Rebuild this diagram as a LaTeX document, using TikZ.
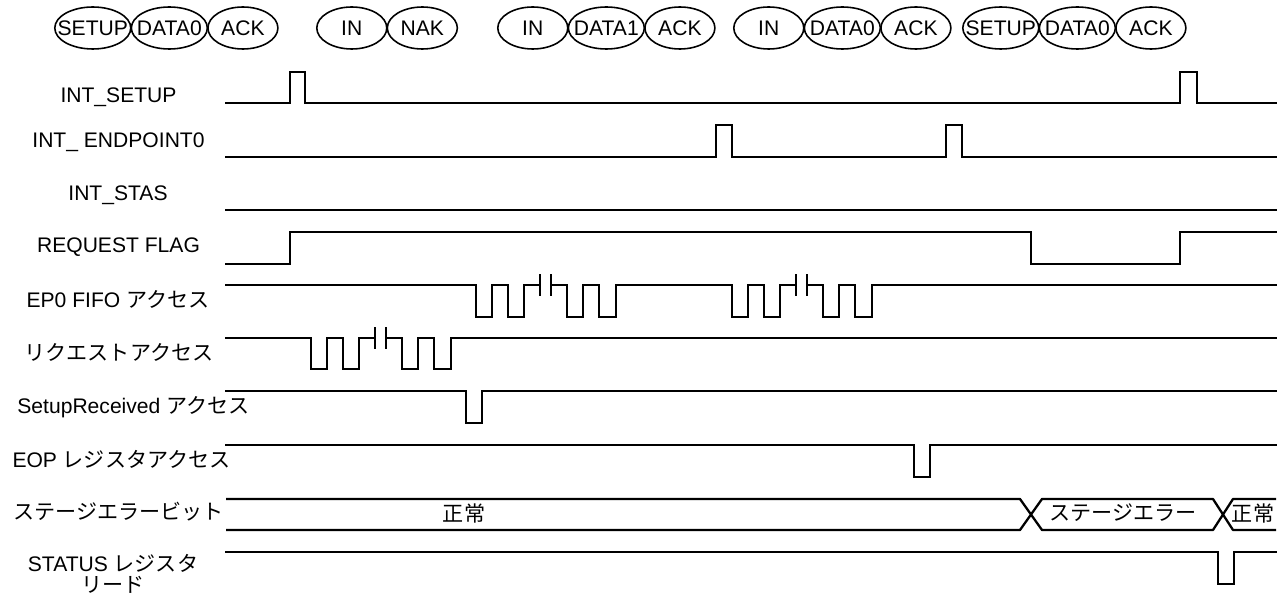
\documentclass[tikz,border=0pt]{standalone}
\usepackage{fontspec}
\setmainfont{Liberation Sans}
\newfontfamily\jp{Noto Sans CJK JP}
\usetikzlibrary{shapes.geometric, positioning}

% text of fixed width ellipses
\newcommand{\pk}[1]{\makebox[0pt]{#1}}
% burst of accesses: start x, high y, low y
\newcommand{\burst}[3]{%
    \draw[sig] (#1,#2) |- (#1+16,#3) |- (#1+32,#2) |- (#1+48,#3) |- (#1+64,#2);
    \draw[sig] (#1+64,#2-10) -- (#1+64,#2+10);
    \draw[sig] (#1+75,#2-10) -- (#1+75,#2+10);
    \draw[sig] (#1+75,#2) -| (#1+91,#3) -| (#1+107,#2) -| (#1+123,#3) -| (#1+140,#2);
}

\begin{document}
\begin{tikzpicture}[
        x=0.02cm, y=-0.02cm,
        font=\fontsize{12}{14}\selectfont,
        pkt/.style={ellipse, draw, line width=0.9pt, minimum height=0.84cm, inner sep=0pt},
        pktlong/.style={pkt, minimum width=1.52cm},
        pktshort/.style={pkt, minimum width=1.4cm},
        lbl/.style={anchor=base, inner sep=0pt},
        sig/.style={line width=1.3pt, line cap=rect},
        bus/.style={line width=1.3pt, line join=round}
        ]
        \useasboundingbox (0,0) rectangle (1279,601);

        % packets
        \node[pktlong, anchor=west] (setupA) at (54,28) {\pk{SETUP}};
        \node[pktlong, right=-0.02cm of setupA] (dataA) {\pk{DATA0}};
        \node[pktshort, right=-0.02cm of dataA] (ackA) {\pk{ACK}};
        \node[pktshort, anchor=west] (inA) at (316,28) {\pk{IN}};
        \node[pktshort, right=-0.02cm of inA] (nakA) {\pk{NAK}};
        \node[pktshort, anchor=west] (inB) at (497,28) {\pk{IN}};
        \node[pktlong, right=-0.02cm of inB] (dataB) {\pk{DATA1}};
        \node[pktshort, right=-0.02cm of dataB] (ackB) {\pk{ACK}};
        \node[pktshort, anchor=west] (inC) at (733,28) {\pk{IN}};
        \node[pktlong, right=-0.02cm of inC] (dataC) {\pk{DATA0}};
        \node[pktshort, right=-0.02cm of dataC] (ackC) {\pk{ACK}};
        \node[pktlong, anchor=west] (setupD) at (962,28) {\pk{SETUP}};
        \node[pktlong, right=-0.02cm of setupD] (dataD) {\pk{DATA0}};
        \node[pktshort, right=-0.02cm of dataD] (ackD) {\pk{ACK}};

        % signal names
        \node[lbl] (intsetup) at (118.5,103) {INT\_SETUP};
        \node[lbl] (intep) at (118.5,148) {INT\_ ENDPOINT0};
        \node[lbl] (intstas) at (118,201) {INT\_STAS};
        \node[lbl] (reqflag) at (118.5,253) {REQUEST FLAG};
        \node[lbl] (fifo) at (118,308) {EP0 FIFO {\jp アクセス}};
        \node[lbl] (reqacc) at (119,361) {\jp リクエストアクセス};
        \node[lbl] (setuprx) at (133.5,414) {SetupReceived {\jp アクセス}};
        \node[lbl] (eop) at (121.5,467) {EOP {\jp レジスタアクセス}};
        \node[lbl] (stage) at (118.5,520) {\jp ステージエラービット};
        \node[lbl, align=center, font=\fontsize{12}{11.6}\selectfont] (status) at (113,592) {STATUS {\jp レジスタ}\\{\jp リード}};

        % waveforms
        \draw[sig] (226,103) -| (290,72) -| (305,103) -| (1180,72) -| (1197,103) -- (1276,103);
        \draw[sig] (226,157) -| (716,125) -| (732,157) -| (946,125) -| (962,157) -- (1276,157);
        \draw[sig] (226,210) -- (1276,210);
        \draw[sig] (226,264) -| (290,232) -| (1031,264) -| (1180,232) -- (1276,232);

        \draw[sig] (226,285) -- (476,285);
        \burst{476}{285}{317}
        \draw[sig] (616,285) -- (732,285);
        \burst{732}{285}{317}
        \draw[sig] (872,285) -- (1276,285);

        \draw[sig] (226,338) -- (311,338);
        \burst{311}{338}{369}
        \draw[sig] (451,338) -- (1276,338);

        \draw[sig] (226,391) -| (466,423) -| (482,391) -- (1276,391);
        \draw[sig] (226,445) -| (914,477) -| (930,445) -- (1276,445);

        \draw[bus] (226,499) -- (1020,499) -- (1042,530) -- (1213,530) -- (1233,499) -- (1276,499);
        \draw[bus] (226,530) -- (1020,530) -- (1042,499) -- (1213,499) -- (1233,530) -- (1276,530);
        \node (ok1) at (464,513) {\jp 正常};
        \node (err) at (1123,513) {\jp ステージエラー};
        \node (ok2) at (1253,513) {\jp 正常};

        \draw[sig] (226,552) -| (1218,584) -| (1234,552) -- (1276,552);

    \end{tikzpicture}
\end{document}
